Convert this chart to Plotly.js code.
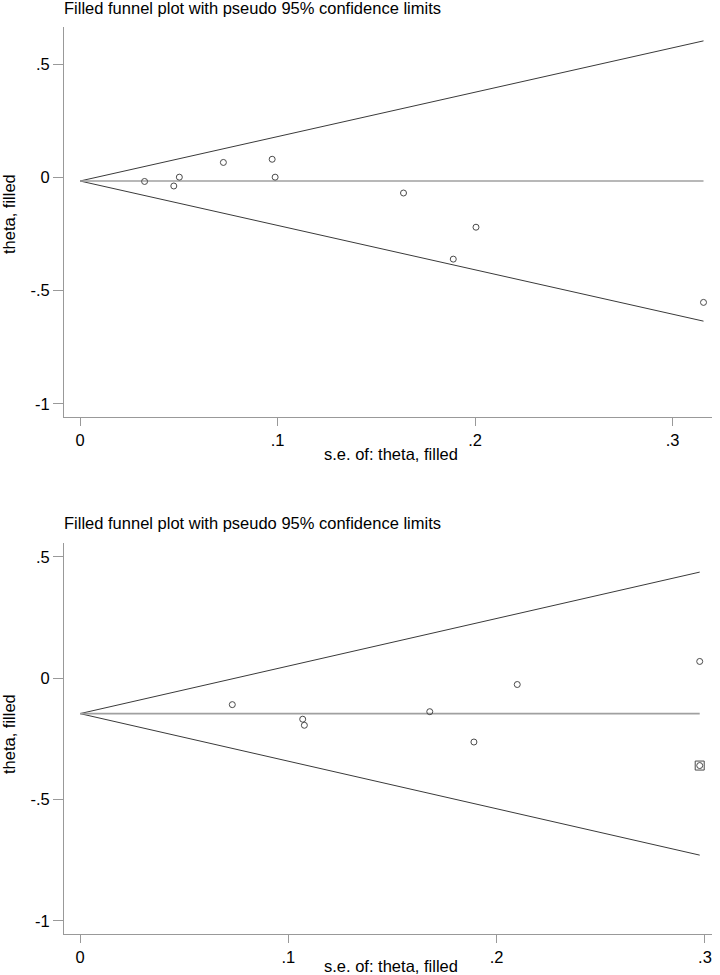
<!DOCTYPE html>
<html>
<head>
<meta charset="utf-8">
<script src="https://cdn.plot.ly/plotly-3.0.1.min.js"></script>
<style>html,body{margin:0;padding:0;background:#fff;}#chart{width:720px;height:975px;}</style>
</head>
<body>
<div id="chart"></div>
<script>
// ---- Data ----
const chartTitle = "Filled funnel plot with pseudo 95% confidence limits";
const xTitle = "s.e. of: theta, filled";
const yTitle = "theta, filled";

const xTickVals = [0, 0.1, 0.2, 0.3];
const xTickText = ["0", ".1", ".2", ".3"];
const yTickVals = [0.5, 0, -0.5, -1];
const yTickText = [".5", "0", "-.5", "-1"];

// Top panel
const seTop = [0.0327, 0.0475, 0.0503, 0.0726, 0.0973, 0.0988, 0.1638, 0.1890, 0.2005, 0.3157];
const thetaTop = [-0.018, -0.038, 0.001, 0.066, 0.080, 0.001, -0.069, -0.361, -0.220, -0.552];
const pooledTop = -0.016;

// Bottom panel
const seBottom = [0.0731, 0.1069, 0.1077, 0.1679, 0.1891, 0.2099, 0.2975];
const thetaBottom = [-0.109, -0.169, -0.194, -0.138, -0.263, -0.026, 0.069];
const seFilled = [0.2975];
const thetaFilled = [-0.360];
const pooledBottom = -0.146;

const z = 1.96;

// ---- Build traces ----
function funnelTraces(se, pooled, xa, ya) {
  const seMax = Math.max(...se);
  const xs = [0, seMax];
  return [
    {x: xs, y: xs.map(s => pooled + z * s), xaxis: xa, yaxis: ya, mode: 'lines',
     line: {color: '#3a3a3a', width: 1}, hoverinfo: 'skip', showlegend: false},
    {x: xs, y: xs.map(s => pooled - z * s), xaxis: xa, yaxis: ya, mode: 'lines',
     line: {color: '#3a3a3a', width: 1}, hoverinfo: 'skip', showlegend: false},
    {x: xs, y: [pooled, pooled], xaxis: xa, yaxis: ya, mode: 'lines',
     line: {color: '#a0a0a0', width: 1.6}, hoverinfo: 'skip', showlegend: false}
  ];
}
const circle = {symbol: 'circle-open', size: 6, color: '#4a4a4a', line: {width: 1, color: '#4a4a4a'}};

const allSeBottom = seBottom.concat(seFilled);

const traces = []
  .concat(funnelTraces(seTop, pooledTop, 'x', 'y'))
  .concat([{x: seTop, y: thetaTop, xaxis: 'x', yaxis: 'y', mode: 'markers', marker: circle, showlegend: false}])
  .concat(funnelTraces(allSeBottom, pooledBottom, 'x2', 'y2'))
  .concat([
    {x: seBottom, y: thetaBottom, xaxis: 'x2', yaxis: 'y2', mode: 'markers', marker: circle, showlegend: false},
    {x: seFilled, y: thetaFilled, xaxis: 'x2', yaxis: 'y2', mode: 'markers', marker: circle, showlegend: false},
    {x: seFilled, y: thetaFilled, xaxis: 'x2', yaxis: 'y2', mode: 'markers',
     marker: {symbol: 'square-open', size: 9, color: '#4a4a4a', line: {width: 1, color: '#4a4a4a'}}, showlegend: false}
  ]);

// ---- Layout ----
const W = 720, H = 975;
const px = v => v / W;
const py = v => 1 - v / H;
const font = {family: 'Liberation Sans, Arial, sans-serif', size: 16.5, color: '#000'};

function xAxis(range, domainY) {
  return {range: range, domain: [px(64), px(712)], anchor: domainY,
    tickvals: xTickVals, ticktext: xTickText, ticks: 'outside', ticklen: 8, tickcolor: '#999999',
    showline: true, linecolor: '#999999', linewidth: 1, showgrid: false, zeroline: false,
    tickfont: font, fixedrange: true};
}
function yAxis(range, top, bottom, anchorX) {
  return {range: range, domain: [py(bottom), py(top)], anchor: anchorX,
    tickvals: yTickVals, ticktext: yTickText, ticks: 'outside', ticklen: 10, tickcolor: '#999999',
    showline: true, linecolor: '#999999', linewidth: 1, showgrid: false, zeroline: false,
    tickfont: font, fixedrange: true};
}

const ann = (text, x, y, opts) => Object.assign({text: text, x: x, y: y, xref: 'paper', yref: 'paper',
  showarrow: false, font: font}, opts || {});

const layout = {
  width: W, height: H,
  margin: {l: 0, r: 0, t: 0, b: 0},
  paper_bgcolor: '#fff', plot_bgcolor: '#fff',
  font: font,
  showlegend: false,
  xaxis: xAxis([-0.0081, 0.320], 'y'),
  yaxis: yAxis([-1.058, 0.664], 27, 417, 'x'),
  xaxis2: xAxis([-0.0077, 0.3034], 'y2'),
  yaxis2: yAxis([-1.054, 0.557], 543, 934, 'x2'),
  annotations: [
    ann(chartTitle, px(62), py(8), {xanchor: 'left', yanchor: 'middle'}),
    ann(chartTitle, px(62), py(523), {xanchor: 'left', yanchor: 'middle'}),
    ann(xTitle, px(391), py(454), {xanchor: 'center', yanchor: 'middle'}),
    ann(xTitle, px(391), py(966), {xanchor: 'center', yanchor: 'middle'}),
    ann(yTitle, px(9), py(214), {xanchor: 'center', yanchor: 'middle', textangle: -90}),
    ann(yTitle, px(9), py(734), {xanchor: 'center', yanchor: 'middle', textangle: -90})
  ]
};

Plotly.newPlot('chart', traces, layout, {displayModeBar: false, staticPlot: true});
</script>
</body>
</html>
